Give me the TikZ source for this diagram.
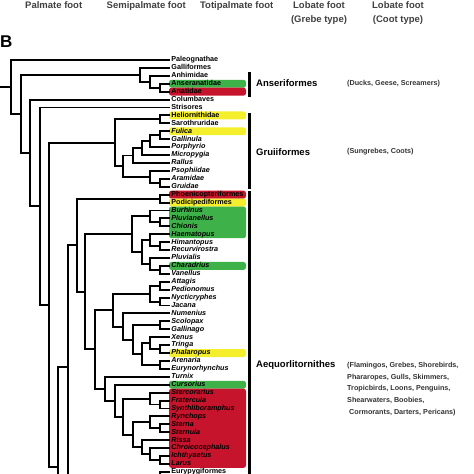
\documentclass[tikz,border=0pt]{standalone}
\usepackage{fontspec}
\setmainfont{Liberation Sans}
\usepackage{tikz}

\definecolor{cladegreen}{RGB}{62,178,72}
\definecolor{cladered}{RGB}{198,20,44}
\definecolor{cladeyellow}{RGB}{244,238,44}

\begin{document}
\begin{tikzpicture}[x=1pt,y=-1pt,
		leaf/.style={anchor=west,inner xsep=1.2pt,inner ysep=0pt,text height=5.2pt,text depth=1.5pt,font=\bfseries\fontsize{7.2}{8}\selectfont},
		genus/.style={leaf,font=\bfseries\itshape\fontsize{7.2}{8}\selectfont},
		branch/.style={draw=black,line width=1.9pt},
		foot/.style={anchor=base,font=\bfseries\fontsize{9.5}{11}\selectfont,text=black!75},
		order/.style={anchor=west,inner sep=0pt,font=\bfseries\fontsize{9.5}{11}\selectfont},
		common/.style={inner sep=0pt,font=\bfseries\fontsize{7.2}{11.9}\selectfont,text=black!80},
		band/.style={rounded corners=2.5pt},
		bar/.style={fill=black}]

		\useasboundingbox (0,0) rectangle (474,474);

		% foot types
		\node[foot] (palmate) at (53.7,8.5) {Palmate foot};
		\node[foot] (semipalmate) at (146.3,8.5) {Semipalmate foot};
		\node[foot] (totipalmate) at (236.7,8.5) {Totipalmate foot};
		\node[foot] (lobateG) at (319,8.5) {Lobate foot};
		\node[foot] (grebetype) at (319,22) {(Grebe type)};
		\node[foot] (lobateC) at (398,8.5) {Lobate foot};
		\node[foot] (coottype) at (398,22) {(Coot type)};

		\node[anchor=base west,inner sep=0pt,font=\bfseries\fontsize{17}{20}\selectfont] (panelB) at (0,47) {B};

		% tree: one row per taxon
		\begin{scope}[yshift=-60pt,y=-7.92pt]

		% colour bands
		\fill[band,cladegreen] (169,2.5) rectangle (246,3.5);
		\fill[band,cladered] (169,3.5) rectangle (246,4.5);
		\fill[band,cladeyellow] (169,6.5) rectangle (246,7.5);
		\fill[band,cladeyellow] (169,8.5) rectangle (246,9.5);
		\fill[band,cladered] (169,16.5) rectangle (246,17.5);
		\fill[band,cladeyellow] (169,17.5) rectangle (246,18.5);
		\fill[band,cladegreen] (169,18.5) rectangle (246,22.5);
		\fill[band,cladegreen] (169,25.5) rectangle (246,26.5);
		\fill[band,cladeyellow] (169,36.5) rectangle (246,37.5);
		\fill[band,cladegreen] (169,40.5) rectangle (246,41.5);
		\fill[band,cladered] (169,41.5) rectangle (246,51.5);

		% order bars
		\fill[bar] (247.5,1.48) rectangle (250.5,4.71);
		\fill[bar] (247.5,6.73) rectangle (250.5,16.25);
		\fill[bar] (247.5,16.5) rectangle (250.5,53.5);

		% taxa
		\node[leaf] (Paleognathae) at (170,0) {Paleognathae};
		\node[leaf] (Galliformes) at (170,1) {Galliformes};
		\node[leaf] (Anhimidae) at (170,2) {Anhimidae};
		\node[leaf] (Anseranatidae) at (170,3) {Anseranatidae};
		\node[leaf] (Anatidae) at (170,4) {Anatidae};
		\node[leaf] (Columbaves) at (170,5) {Columbaves};
		\node[leaf] (Strisores) at (170,6) {Strisores};
		\node[leaf] (Heliornithidae) at (170,7) {Heliornithidae};
		\node[leaf] (Sarothruridae) at (170,8) {Sarothruridae};
		\node[genus] (Fulica) at (170,9) {Fulica};
		\node[genus] (Gallinula) at (170,10) {Gallinula};
		\node[genus] (Porphyrio) at (170,11) {Porphyrio};
		\node[genus] (Micropygia) at (170,12) {Micropygia};
		\node[genus] (Rallus) at (170,13) {Rallus};
		\node[genus] (Psophiidae) at (170,14) {Psophiidae};
		\node[genus] (Aramidae) at (170,15) {Aramidae};
		\node[genus] (Gruidae) at (170,16) {Gruidae};
		\node[leaf] (Phoenicopteriformes) at (170,17) {Phoenicopteriformes};
		\node[leaf] (Podicipediformes) at (170,18) {Podicipediformes};
		\node[genus] (Burhinus) at (170,19) {Burhinus};
		\node[genus] (Pluvianellus) at (170,20) {Pluvianellus};
		\node[genus] (Chionis) at (170,21) {Chionis};
		\node[genus] (Haematopus) at (170,22) {Haematopus};
		\node[genus] (Himantopus) at (170,23) {Himantopus};
		\node[genus] (Recurvirostra) at (170,24) {Recurvirostra};
		\node[genus] (Pluvialis) at (170,25) {Pluvialis};
		\node[genus] (Charadrius) at (170,26) {Charadrius};
		\node[genus] (Vanellus) at (170,27) {Vanellus};
		\node[genus] (Attagis) at (170,28) {Attagis};
		\node[genus] (Pedionomus) at (170,29) {Pedionomus};
		\node[genus] (Nycticryphes) at (170,30) {Nycticryphes};
		\node[genus] (Jacana) at (170,31) {Jacana};
		\node[genus] (Numenius) at (170,32) {Numenius};
		\node[genus] (Scolopax) at (170,33) {Scolopax};
		\node[genus] (Gallinago) at (170,34) {Gallinago};
		\node[genus] (Xenus) at (170,35) {Xenus};
		\node[genus] (Tringa) at (170,36) {Tringa};
		\node[genus] (Phalaropus) at (170,37) {Phalaropus};
		\node[genus] (Arenaria) at (170,38) {Arenaria};
		\node[genus] (Eurynorhynchus) at (170,39) {Eurynorhynchus};
		\node[genus] (Turnix) at (170,40) {Turnix};
		\node[genus] (Cursorius) at (170,41) {Cursorius};
		\node[genus] (Stercorarius) at (170,42) {Stercorarius};
		\node[genus] (Fratercula) at (170,43) {Fratercula};
		\node[genus] (Synthliboramphus) at (170,44) {Synthliboramphus};
		\node[genus] (Rynchops) at (170,45) {Rynchops};
		\node[genus] (Sterna) at (170,46) {Sterna};
		\node[genus] (Sternula) at (170,47) {Sternula};
		\node[genus] (Rissa) at (170,48) {Rissa};
		\node[genus] (Chroicocephalus) at (170,49) {Chroicocephalus};
		\node[genus] (Ichthyaetus) at (170,50) {Ichthyaetus};
		\node[genus] (Larus) at (170,51) {Larus};
		\node[leaf] (Eurypygiformes) at (170,52) {Eurypygiformes};

		% branching points
		\coordinate (rootstub) at (0,3.4);
		\coordinate (aves) at (11,3.4);
		\coordinate (neognathae) at (21,6.8);
		\coordinate (galloanserae) at (140,1.875);
		\coordinate (anseriformes) at (150,2.75);
		\coordinate (anatoidea) at (160,3.5);
		\coordinate (neoaves) at (30,11.73);
		\coordinate (neoavesB) at (40,18.46);
		\coordinate (neoavesC) at (49,30.92);
		\coordinate (neoavesD) at (58,51.39);
		\coordinate (neoavesE) at (68,38.76);
		\coordinate (cutD) at (58,53.5);
		\coordinate (cutE) at (68,53.5);
		\coordinate (gruiformes) at (115,10.453);
		\coordinate (heliornithoidea) at (160,7.5);
		\coordinate (ralloidea) at (123,13.406);
		\coordinate (rallidae) at (133,12.0625);
		\coordinate (rallidA) at (142,11.125);
		\coordinate (rallidB) at (150,10.25);
		\coordinate (rallidC) at (160,9.5);
		\coordinate (gruoidea) at (150,14.75);
		\coordinate (gruidA) at (160,15.5);
		\coordinate (aequorlitornithes) at (77,23.386);
		\coordinate (mirandornithes) at (160,17.5);
		\coordinate (charadriiformes) at (85,29.27);
		\coordinate (charadrii) at (132,22);
		\coordinate (chionoidea) at (150,19.75);
		\coordinate (chionA) at (160,20.5);
		\coordinate (charadrB) at (142,24.25);
		\coordinate (haematopodidae) at (150,22.75);
		\coordinate (recurvirostridae) at (160,23.5);
		\coordinate (charadriidae) at (150,25.75);
		\coordinate (charadrA) at (160,26.5);
		\coordinate (lariscolo) at (95,36.543);
		\coordinate (scolopaci) at (113,31.578);
		\coordinate (thinocori) at (150,29.5);
		\coordinate (thinoA) at (160,28.5);
		\coordinate (jacanidae) at (160,30.5);
		\coordinate (scolopacidae) at (123,33.656);
		\coordinate (scolopB) at (133,35.3125);
		\coordinate (scolopC) at (160,33.5);
		\coordinate (calidrA) at (142,37.125);
		\coordinate (tringaA) at (150,35.75);
		\coordinate (tringaB) at (160,36.5);
		\coordinate (arenariaA) at (160,38.5);
		\coordinate (lari) at (105,41.508);
		\coordinate (lariA) at (115,43.016);
		\coordinate (lariB) at (123,45.03);
		\coordinate (alcidae) at (150,42.75);
		\coordinate (alcidA) at (160,43.5);
		\coordinate (laridae) at (133,47.3125);
		\coordinate (sternidae) at (150,45.75);
		\coordinate (sternA) at (160,46.5);
		\coordinate (larinae) at (142,48.875);
		\coordinate (larinA) at (150,49.75);
		\coordinate (larinB) at (160,50.5);
		\coordinate (eurypyga) at (160,52.5);
		\coordinate (cutEury) at (160,53.5);

		% branches
		\draw[branch] (rootstub) -- (aves);
		\draw[branch] (aves) |- (Paleognathae.west);
		\draw[branch] (aves) |- (neognathae);
		\draw[branch] (neognathae) |- (galloanserae);
		\draw[branch] (neognathae) |- (neoaves);
		\draw[branch] (galloanserae) |- (Galliformes.west);
		\draw[branch] (galloanserae) |- (anseriformes);
		\draw[branch] (anseriformes) |- (Anhimidae.west);
		\draw[branch] (anseriformes) |- (anatoidea);
		\draw[branch] (anatoidea) |- (Anseranatidae.west);
		\draw[branch] (anatoidea) |- (Anatidae.west);
		\draw[branch] (neoaves) |- (Columbaves.west);
		\draw[branch] (neoaves) |- (neoavesB);
		\draw[branch] (neoavesB) |- (Strisores.west);
		\draw[branch] (neoavesB) |- (neoavesC);
		\draw[branch] (neoavesC) |- (gruiformes);
		\draw[branch] (neoavesC) |- (neoavesD);
		\draw[branch] (neoavesD) |- (neoavesE);
		\draw[branch] (neoavesD) -- (cutD);
		\draw[branch] (neoavesE) |- (aequorlitornithes);
		\draw[branch] (neoavesE) -- (cutE);

		\draw[branch] (gruiformes) |- (heliornithoidea);
		\draw[branch] (gruiformes) |- (ralloidea);
		\draw[branch] (heliornithoidea) |- (Heliornithidae.west);
		\draw[branch] (heliornithoidea) |- (Sarothruridae.west);
		\draw[branch] (ralloidea) |- (rallidae);
		\draw[branch] (ralloidea) |- (gruoidea);
		\draw[branch] (rallidae) |- (rallidA);
		\draw[branch] (rallidae) |- (Rallus.west);
		\draw[branch] (rallidA) |- (rallidB);
		\draw[branch] (rallidA) |- (Micropygia.west);
		\draw[branch] (rallidB) |- (rallidC);
		\draw[branch] (rallidB) |- (Porphyrio.west);
		\draw[branch] (rallidC) |- (Fulica.west);
		\draw[branch] (rallidC) |- (Gallinula.west);
		\draw[branch] (gruoidea) |- (Psophiidae.west);
		\draw[branch] (gruoidea) |- (gruidA);
		\draw[branch] (gruidA) |- (Aramidae.west);
		\draw[branch] (gruidA) |- (Gruidae.west);

		\draw[branch] (aequorlitornithes) |- (mirandornithes);
		\draw[branch] (aequorlitornithes) |- (charadriiformes);
		\draw[branch] (mirandornithes) |- (Phoenicopteriformes.west);
		\draw[branch] (mirandornithes) |- (Podicipediformes.west);
		\draw[branch] (charadriiformes) |- (charadrii);
		\draw[branch] (charadriiformes) |- (lariscolo);
		\draw[branch] (charadrii) |- (chionoidea);
		\draw[branch] (charadrii) |- (charadrB);
		\draw[branch] (chionoidea) |- (Burhinus.west);
		\draw[branch] (chionoidea) |- (chionA);
		\draw[branch] (chionA) |- (Pluvianellus.west);
		\draw[branch] (chionA) |- (Chionis.west);
		\draw[branch] (charadrB) |- (haematopodidae);
		\draw[branch] (charadrB) |- (charadriidae);
		\draw[branch] (haematopodidae) |- (Haematopus.west);
		\draw[branch] (haematopodidae) |- (recurvirostridae);
		\draw[branch] (recurvirostridae) |- (Himantopus.west);
		\draw[branch] (recurvirostridae) |- (Recurvirostra.west);
		\draw[branch] (charadriidae) |- (Pluvialis.west);
		\draw[branch] (charadriidae) |- (charadrA);
		\draw[branch] (charadrA) |- (Charadrius.west);
		\draw[branch] (charadrA) |- (Vanellus.west);

		\draw[branch] (lariscolo) |- (scolopaci);
		\draw[branch] (lariscolo) |- (lari);
		\draw[branch] (scolopaci) |- (thinocori);
		\draw[branch] (scolopaci) |- (scolopacidae);
		\draw[branch] (thinocori) |- (thinoA);
		\draw[branch] (thinocori) |- (jacanidae);
		\draw[branch] (thinoA) |- (Attagis.west);
		\draw[branch] (thinoA) |- (Pedionomus.west);
		\draw[branch] (jacanidae) |- (Nycticryphes.west);
		\draw[branch] (jacanidae) |- (Jacana.west);
		\draw[branch] (scolopacidae) |- (Numenius.west);
		\draw[branch] (scolopacidae) |- (scolopB);
		\draw[branch] (scolopB) |- (scolopC);
		\draw[branch] (scolopB) |- (calidrA);
		\draw[branch] (scolopC) |- (Scolopax.west);
		\draw[branch] (scolopC) |- (Gallinago.west);
		\draw[branch] (calidrA) |- (tringaA);
		\draw[branch] (calidrA) |- (arenariaA);
		\draw[branch] (tringaA) |- (Xenus.west);
		\draw[branch] (tringaA) |- (tringaB);
		\draw[branch] (tringaB) |- (Tringa.west);
		\draw[branch] (tringaB) |- (Phalaropus.west);
		\draw[branch] (arenariaA) |- (Arenaria.west);
		\draw[branch] (arenariaA) |- (Eurynorhynchus.west);

		\draw[branch] (lari) |- (Turnix.west);
		\draw[branch] (lari) |- (lariA);
		\draw[branch] (lariA) |- (Cursorius.west);
		\draw[branch] (lariA) |- (lariB);
		\draw[branch] (lariB) |- (alcidae);
		\draw[branch] (lariB) |- (laridae);
		\draw[branch] (alcidae) |- (Stercorarius.west);
		\draw[branch] (alcidae) |- (alcidA);
		\draw[branch] (alcidA) |- (Fratercula.west);
		\draw[branch] (alcidA) |- (Synthliboramphus.west);
		\draw[branch] (laridae) |- (sternidae);
		\draw[branch] (laridae) |- (larinae);
		\draw[branch] (sternidae) |- (Rynchops.west);
		\draw[branch] (sternidae) |- (sternA);
		\draw[branch] (sternA) |- (Sterna.west);
		\draw[branch] (sternA) |- (Sternula.west);
		\draw[branch] (larinae) |- (Rissa.west);
		\draw[branch] (larinae) |- (larinA);
		\draw[branch] (larinA) |- (Chroicocephalus.west);
		\draw[branch] (larinA) |- (larinB);
		\draw[branch] (larinB) |- (Ichthyaetus.west);
		\draw[branch] (larinB) |- (Larus.west);
		\draw[branch] (eurypyga) |- (Eurypygiformes.west);
		\draw[branch] (eurypyga) -- (cutEury);

		% orders and common names
		\node[order] (anserlabel) at (256,2.94) {Anseriformes};
		\node[common,anchor=west] (ducks) at (347,2.94) {(Ducks, Geese, Screamers)};
		\node[order] (gruilabel) at (256,11.58) {Gruiiformes};
		\node[common,anchor=west] (coots) at (347,11.58) {(Sungrebes, Coots)};
		\node[order] (aequorlabel) at (256,38.5) {Aequorlitornithes};
		\node[common,anchor=north west,align=left] (shorebirds) at (347,38.1) {(Flamingos, Grebes, Shorebirds,\\Phararopes, Gulls, Skimmers,\\Tropicbirds, Loons, Penguins,\\Shearwaters, Boobies,\\\ Cormorants, Darters, Pericans)};
		\end{scope}

		\end{tikzpicture}
\end{document}
